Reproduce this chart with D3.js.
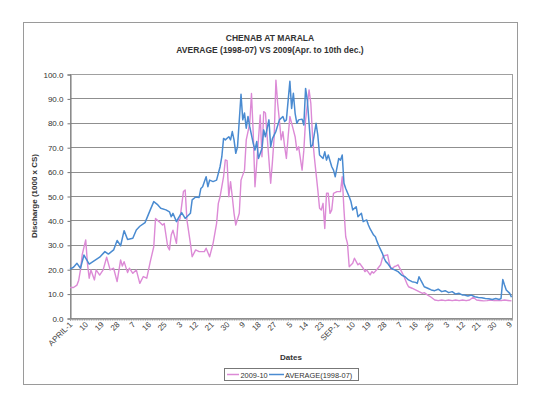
<!DOCTYPE html>
<html><head><meta charset="utf-8">
<script src="https://cdn.jsdelivr.net/npm/d3@7"></script>
<style>body{margin:0;background:#fff}svg{display:block;font-family:"Liberation Sans",Arial,sans-serif}</style>
</head><body><svg id="c" width="560" height="397"></svg>
<script>
const tickLabels=["APRIL-1","10","19","28","7","16","25","3","12","21","30","9","18","27","5","14","23","SEP-1","10","19","28","7","16","25","3","12","21","30","9"];
const yTicks=[0,10,20,30,40,50,60,70,80,90,100];
// day offset from April 1 and discharge (1000 x CS)
const avgDays=[0,2,4,6,8,9,11,14,17,20,22,25,27,29,31,33,36,38,40,43,46,48,50,52,55,57,58,59,61,62,64,66,69,70,72,74,75,76,78,79,80,82,84,86,87,88,89,91,92,93,94,95,96,98,99,100,101,102,103,105,106,107,108,110,111,112,114,115,116,118,120,122,123,124,126,127,128,129,130,131,133,134,135,136,137,138,139,141,142,143,145,146,147,148,150,151,152,154,155,156,157,158,160,161,162,164,165,167,168,170,171,172,174,175,176,177,179,180,181,182,184,186,188,190,192,194,196,198,199,200,201,202,203,205,207,209,211,213,215,217,219,221,223,225,226,228,230,232,234,236,238,240,242,244,246,247,248,249,250,252,253];
const avgValues=[20.0,20.8,22.4,20.4,25.8,24.5,22.1,23.5,24.9,27.2,26.2,27.9,31.8,29.6,35.8,32.2,32.7,36.1,37.6,39.1,44.3,47.7,46.6,45.0,44.3,43.5,41.5,42.9,39.5,40.8,43.2,40.8,42.9,48.4,49.6,49.4,53.1,53.8,57.9,53.8,56.5,55.9,56.5,62.0,66.1,73.6,73.0,74.3,73.0,76.4,73.0,67.5,70.2,91.7,81.2,84.0,77.8,82.6,78.4,71.6,68.8,72.3,65.4,69.5,77.1,74.3,81.2,70.2,73.5,76.5,81.2,82.6,80.5,81.2,97.0,85.9,92.1,83.9,79.8,81.2,81.5,79.1,94.1,89.3,79.8,70.2,70.9,79.8,75.0,66.8,65.4,68.1,64.7,66.8,62.0,60.6,57.9,65.4,64.7,66.8,55.2,53.1,49.7,47.7,44.3,45.6,41.5,42.9,39.5,40.2,38.1,36.5,34.0,33.3,31.3,29.5,26.5,24.5,23.1,22.4,20.4,19.7,19.0,17.6,16.9,15.6,14.9,14.6,14.2,16.9,15.5,14.2,12.8,12.2,11.5,11.2,11.8,10.8,11.2,10.4,10.8,9.8,10.1,9.4,9.4,9.0,9.4,8.7,8.4,8.3,8.0,7.9,7.6,8.0,7.6,8.0,15.8,13.5,11.5,10.1,8.5];
const y09Days=[0,2,4,5,6,7,9,10,11,12,14,15,17,19,21,23,25,27,29,30,31,33,34,36,38,40,42,44,46,48,49,51,53,54,56,57,58,59,61,62,63,65,66,67,69,70,72,74,75,77,78,80,82,84,85,86,88,89,90,91,92,93,94,95,97,98,100,101,103,104,105,106,107,109,110,111,112,113,115,116,117,118,119,120,121,122,123,124,125,126,128,129,130,131,133,134,135,137,138,139,140,141,142,143,144,145,146,147,148,149,150,151,153,155,156,157,158,159,160,162,163,165,166,168,169,170,172,173,174,176,178,179,180,182,183,184,186,187,188,190,191,193,194,196,198,200,202,203,205,207,209,211,213,215,217,219,221,223,225,227,229,231,233,235,237,239,241,243,245,247,249,251,253];
const y09Values=[12.5,12.5,13.5,15.5,19.7,26.0,32.0,22.4,16.3,19.7,15.6,19.7,17.6,19.7,24.9,19.7,20.4,14.9,23.8,21.3,23.1,18.6,20.4,18.3,19.7,14.2,17.0,16.3,23.1,29.2,40.8,39.5,38.1,38.7,29.2,27.9,34.0,36.0,30.6,40.2,40.5,51.8,52.5,40.2,30.6,25.1,27.9,27.2,27.2,27.2,28.6,25.1,30.6,38.8,47.0,49.7,57.9,64.8,64.5,49.7,55.9,49.7,42.9,38.1,42.9,56.5,60.6,73.0,79.8,92.0,75.7,53.8,63.4,83.2,66.1,84.6,84.0,74.3,55.2,64.0,74.3,97.5,88.0,81.0,73.0,76.4,70.2,65.4,74.3,82.6,77.1,74.3,68.8,70.2,60.6,68.8,81.2,93.5,88.0,74.3,66.1,59.3,52.5,45.0,44.3,47.0,36.7,51.1,51.1,42.9,44.3,51.1,51.8,51.8,57.9,44.3,33.3,30.6,21.0,22.4,24.5,21.8,22.4,20.4,19.0,19.7,17.7,19.0,18.4,20.0,21.8,24.5,25.5,25.9,22.4,20.0,21.1,21.4,21.8,19.0,17.6,14.2,12.8,12.2,11.5,10.8,10.1,10.4,9.4,8.5,7.4,7.1,7.4,7.1,7.4,7.1,7.4,7.1,7.4,7.1,7.4,8.5,7.4,7.2,7.0,7.1,7.4,7.1,7.2,7.1,7.4,7.2,7.0];

const svg=d3.select("#c");
const L=70,R=512,T=74,B=318;
const x=d3.scaleLinear().domain([0,253]).range([L,R-0.5]);
const y=d3.scaleLinear().domain([0,100]).range([B,T]);

// outer chart frame
svg.append("rect").attr("x",23.5).attr("y",22.5).attr("width",494).attr("height",362)
  .attr("fill","#fff").attr("stroke","#9a9a9a").attr("stroke-width",1);

// title
svg.append("text").attr("x",270).attr("y",41).attr("text-anchor","middle")
  .attr("font-size",8.5).attr("font-weight","bold").attr("fill","#333").text("CHENAB AT MARALA");
svg.append("text").attr("x",270).attr("y",53).attr("text-anchor","middle")
  .attr("font-size",8.5).attr("font-weight","bold").attr("fill","#333").text("AVERAGE (1998-07) VS 2009(Apr. to 10th dec.)");

// gridlines
svg.append("g").selectAll("line").data(yTicks.filter(d=>d>0)).join("line")
  .attr("x1",L).attr("x2",R).attr("y1",d=>Math.round(y(d))+0.5).attr("y2",d=>Math.round(y(d))+0.5)
  .attr("stroke","#8f8f8f").attr("stroke-width",1);
// plot frame
svg.append("rect").attr("x",L+0.5).attr("y",T+0.5).attr("width",R-L).attr("height",B-T)
  .attr("fill","none").attr("stroke","#a0a0a0");

// y axis
const ya=svg.append("g").attr("transform",`translate(${L+0.5},0.5)`)
  .call(d3.axisLeft(y).tickValues(yTicks).tickFormat(d3.format(".1f")).tickSize(3).tickPadding(4));
ya.select(".domain").attr("stroke","#777");
ya.selectAll(".tick line").attr("stroke","#777");
ya.selectAll("text").attr("font-size",8).attr("fill","#333").attr("font-family","Liberation Sans, Arial, sans-serif");

// x axis with daily minor ticks
const xa=svg.append("g").attr("transform",`translate(0,${B+0.5})`)
  .call(d3.axisBottom(x).tickValues(d3.range(0,254)).tickSize(2).tickFormat(""));
xa.select(".domain").attr("stroke","#777");
xa.selectAll(".tick line").attr("stroke","#999");
svg.append("g").selectAll("text").data(tickLabels).join("text")
  .attr("transform",(d,i)=>`translate(${x(i*9)+3},${B+7}) rotate(-45)`)
  .attr("text-anchor","end").attr("font-size",8).attr("fill","#444").text(d=>d);

// axis titles
svg.append("text").attr("transform",`translate(37,${(T+B)/2}) rotate(-90)`).attr("text-anchor","middle")
  .attr("font-size",8).attr("font-weight","bold").attr("fill","#333").text("Discharge (1000 x CS)");
svg.append("text").attr("x",291).attr("y",360).attr("text-anchor","middle")
  .attr("font-size",8).attr("font-weight","bold").attr("fill","#333").text("Dates");

// series
const line=d3.line().x(d=>x(d[0])).y(d=>y(d[1]));
const pink="#dc8ad6", blue="#4a8bd1";
svg.append("path").datum(y09Days.map((d,i)=>[d,y09Values[i]])).attr("d",line)
  .attr("fill","none").attr("stroke",pink).attr("stroke-width",1.4).attr("stroke-linejoin","round");
svg.append("path").datum(avgDays.map((d,i)=>[d,avgValues[i]])).attr("d",line)
  .attr("fill","none").attr("stroke",blue).attr("stroke-width",1.5).attr("stroke-linejoin","round");

// legend
const lg=svg.append("g");
lg.append("rect").attr("x",224.5).attr("y",368.5).attr("width",134).attr("height",12)
  .attr("fill","#fff").attr("stroke","#777");
lg.append("line").attr("x1",227).attr("x2",239).attr("y1",374.5).attr("y2",374.5).attr("stroke",pink).attr("stroke-width",1.5);
lg.append("text").attr("x",240.5).attr("y",377.5).attr("font-size",7.4).attr("fill","#333").text("2009-10");
lg.append("line").attr("x1",269).attr("x2",284).attr("y1",374.5).attr("y2",374.5).attr("stroke",blue).attr("stroke-width",1.5);
lg.append("text").attr("x",285).attr("y",377.5).attr("font-size",7.4).attr("fill","#333").text("AVERAGE(1998-07)");
</script></body></html>
